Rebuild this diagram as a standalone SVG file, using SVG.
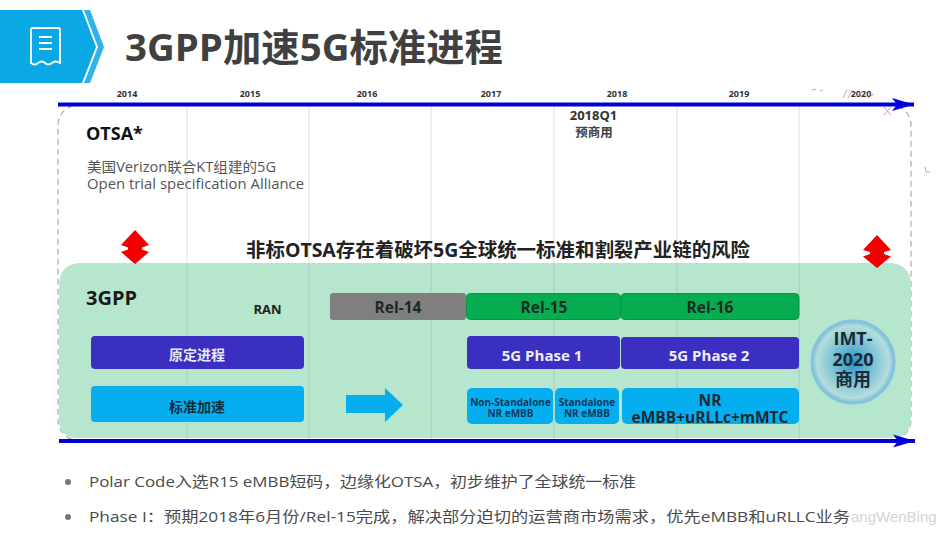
<svg xmlns="http://www.w3.org/2000/svg" width="947" height="535" viewBox="0 0 947 535">
<defs>
<radialGradient id="orb"><stop offset="0" stop-color="#2f93c6"/><stop offset="0.5" stop-color="#7cc2d6"/><stop offset="0.86" stop-color="#b4dedb"/><stop offset="1" stop-color="#6fb8dc"/></radialGradient>
<marker id="head" markerUnits="userSpaceOnUse" markerWidth="24" markerHeight="16" refX="22" refY="8" orient="auto"><path d="M0 1.500L22 8L0 14.500L5 8Z" fill="#0000d8"/></marker>
</defs>
<style>
text{font-family:"Open Sans","Noto Sans CJK SC",sans-serif;text-anchor:middle}
.yr{font-size:9px;font-weight:700;fill:#333}
.b{font-weight:700}
.l{text-anchor:start}
.grid{stroke:#5a6a6a;stroke-opacity:.17;stroke-width:1.2;fill:none}
.axis{stroke:#0000d8;stroke-width:4;fill:none}
.rel{font-size:15.5px;font-weight:700;fill:#1c2a22}
.wt{font-size:15px;font-weight:700;fill:#eef}
.sm{font-size:10px;font-weight:700;fill:#123a5c}
.blk{fill:#1a2a33;font-weight:700;font-size:15.500px}
.body{font-size:14.5px;fill:#4a4a4a}
.mark{stroke:#d8a090;stroke-width:1;fill:none}
</style>
<rect width="947" height="535" fill="#fff"/>
<g id="header">
<path d="M0 10H82L96 47L82 83H0Z" fill="#0ba8e6"/>
<path d="M84 10H90L104 47L90 83H84L98 47Z" fill="#2fb3ea"/>
<path d="M31 30Q31 28 33 28H58Q60 28 60 30V63Q55 60 52 63Q48 66 45 63Q42 60 38 63Q35 66 31 63Z" fill="none" stroke="#fff" stroke-width="1.8"/>
<path d="M39 37H52M39 43H52M39 49H52" stroke="#fff" stroke-width="1.8" fill="none"/>
<text id="title" class="b l" x="125" y="61" font-size="38" textLength="378" lengthAdjust="spacingAndGlyphs" fill="#404040">3GPP加速5G标准进程</text>
</g>
<g id="years">
<text class="yr" x="127" y="97">2014</text><text class="yr" x="250" y="97">2015</text><text class="yr" x="367" y="97">2016</text><text class="yr" x="491" y="97">2017</text><text class="yr" x="617" y="97">2018</text><text class="yr" x="739" y="97">2019</text><text class="yr" x="861" y="97">2020</text>
</g>
<g id="otsa-panel">
<rect x="58" y="105" width="853" height="335" rx="20" fill="none" stroke="#aaa" stroke-width="1.2" stroke-dasharray="6 4"/>
</g>
<g id="panel-3gpp"><path d="M82 263H888Q911 263 911 286V418Q911 438 891 438H78Q59 438 59 419V286Q59 263 82 263Z" fill="#b7e6cf"/></g>
<g id="grid">
<path class="grid" d="M187 104V440M309 104V440M431 104V440M554 104V440M677 104V440M799 104V440"/>
</g>
<g id="connectors">
<path class="axis" d="M58 104.500H914" marker-end="url(#head)"/>
<path class="axis" d="M59 441H915" marker-end="url(#head)"/>
</g>
<g id="stray-marks"><path class="mark" d="M812 90l4-1M820 91l3-1M843 98l4-8M848 98l4-8M855 97l8-5M868 98l6-4M884 107l7 8M891 107l-7 8M925 167l1 5h4"/></g>
<g id="otsa">
<text class="b l" x="86" y="140" font-size="18" fill="#111">OTSA*</text>
<text class="l" x="87" y="172" font-size="14" fill="#555" textLength="189" lengthAdjust="spacingAndGlyphs">美国Verizon联合KT组建的5G</text>
<text class="l" x="87" y="189" font-size="14" fill="#555" textLength="217" lengthAdjust="spacingAndGlyphs">Open trial specification Alliance</text>
</g>
<g id="q1">
<text class="b" x="593.500" y="120" font-size="13" fill="#333">2018Q1</text>
<text x="594" y="137" font-size="12.500" fill="#444" font-weight="600">预商用</text>
</g>
<g id="warning"><text class="b" x="498" y="257" font-size="19" fill="#222" textLength="504" lengthAdjust="spacingAndGlyphs">非标OTSA存在着破坏5G全球统一标准和割裂产业链的风险</text></g>
<g id="red-left"><path d="M135 230L149 245L142 247.500V249.500L149 252L135 264L121 252L128 249.500V247.500L121 245Z" fill="#f00000"/></g>
<g id="red-right"><path d="M877 235L891 250L884 252V254L891 256.500L877 268L863 256.500L870 254V252L863 250Z" fill="#f00000"/></g>
<g id="label-3gpp"><text class="b l" x="86" y="305" font-size="20" fill="#1a1a1a">3GPP</text></g>
<g id="label-ran"><text class="b" x="267.500" y="314" font-size="13" fill="#222">RAN</text></g>
<g id="rel14"><rect x="330" y="293" width="136" height="27" rx="3" fill="#7f7f7f"/><text class="rel" x="398" y="313">Rel-14</text></g>
<g id="rel15"><rect x="466.500" y="293.500" width="154" height="26" rx="4" fill="#05ad50" stroke="#0b9245"/><text class="rel" x="544" y="313">Rel-15</text></g>
<g id="rel16"><rect x="621" y="293.500" width="178" height="26" rx="4" fill="#05ad50" stroke="#0b9245"/><text class="rel" x="710" y="313">Rel-16</text></g>
<g id="original"><rect x="91" y="336" width="213" height="33" rx="4" fill="#3a2fc1"/><text class="b" x="197" y="360" font-size="14" fill="#e8e8f4">原定进程</text></g>
<g id="phase1"><rect x="467" y="336" width="153" height="33" rx="4" fill="#3a2fc1"/><text class="wt" x="542" y="361">5G Phase 1</text></g>
<g id="phase2"><rect x="621" y="337" width="178" height="32" rx="4" fill="#3a2fc1"/><text class="wt" x="709" y="361">5G Phase 2</text></g>
<g id="accel"><rect x="91" y="386" width="213" height="36" rx="4" fill="#05aeee"/><text class="b" x="197" y="412" font-size="14" fill="#12303f">标准加速</text></g>
<g id="arrow-accel"><path d="M346 395H385V388L403 405L385 422V413H346Z" fill="#05aeee"/></g>
<g id="nsa"><rect x="467" y="388" width="86" height="36" rx="5" fill="#05aeee"/><text class="sm" x="510.500" y="406">Non-Standalone</text><text class="sm" x="510.500" y="417">NR eMBB</text></g>
<g id="sa"><rect x="555" y="388" width="64" height="36" rx="5" fill="#05aeee"/><text class="sm" x="587" y="406">Standalone</text><text class="sm" x="587" y="417">NR eMBB</text></g>
<g id="nr"><rect x="622" y="388" width="177" height="36" rx="5" fill="#05aeee"/><text class="blk" x="710" y="406">NR</text><text class="blk" x="710" y="423">eMBB+uRLLc+mMTC</text></g>
<g id="imt"><circle cx="853" cy="362" r="42" fill="url(#orb)" stroke="#8cc6e0" stroke-width="1.5"/>
<text class="b" x="853" y="345" font-size="18" fill="#1a2a33">IMT-</text><text class="b" x="853" y="366" font-size="18" fill="#1a2a33">2020</text><text class="b" x="853" y="386" font-size="18" fill="#1a2a33">商用</text></g>
<g id="bullets">
<circle cx="68" cy="482" r="3" fill="#777"/><circle cx="68" cy="517" r="3" fill="#777"/>
<text class="body l" x="89" y="487" textLength="547" lengthAdjust="spacingAndGlyphs">Polar Code入选R15  eMBB短码，边缘化OTSA，初步维护了全球统一标准</text>
<text class="body l" x="89" y="522" textLength="761" lengthAdjust="spacingAndGlyphs">Phase I：预期2018年6月份/Rel-15完成，解决部分迫切的运营商市场需求，优先eMBB和uRLLC业务</text>
<text class="l" x="851" y="522" font-size="15" fill="#d4d4d4" style="font-family:'Liberation Sans',sans-serif">angWenBing</text>
</g>
</svg>
